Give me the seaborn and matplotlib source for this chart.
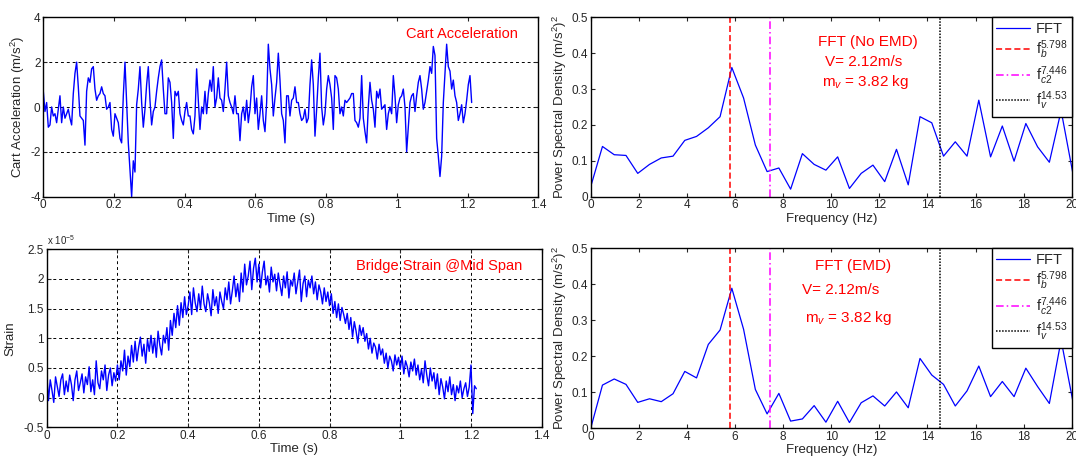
import numpy as np
import matplotlib
matplotlib.use("Agg")
import matplotlib.pyplot as plt
from matplotlib.ticker import FuncFormatter
from matplotlib.lines import Line2D
import seaborn as sns

# ---- data ----
# cart acceleration (m/s^2), sampled every acc_dt seconds
acc_dt = 0.004714
acc = [0.7, -0.2, 0.2, -0.9, -0.8, 0.0, -0.4, -0.3, -0.7, -0.1,
       0.5, -0.7, 0.0, -0.5, -0.3, -0.1, -0.5, -0.8, 0.6, 1.5,
       2.0, 0.9, -0.4, -0.5, -0.6, -1.7, 0.7, 1.3, 1.1, 1.7,
       1.8, 0.8, 0.3, 0.5, 0.6, 0.9, 0.6, 0.5, -0.1, 0.0,
       0.2, -1.0, -1.3, -0.3, -0.5, -0.7, -1.4, -1.6, 0.5, 2.0,
       0.2, -1.6, -2.8, -4.0, -2.4, -2.9, 0.1, 0.8, 1.8, 0.2,
       -0.9, -0.1, 1.0, 1.8, 0.3, -0.8, -0.2, 0.0, 0.7, 1.3,
       1.8, 2.1, 0.8, -0.3, -0.3, 1.3, 1.1, 0.2, -1.4, 0.7,
       0.5, 0.7, -0.3, -0.6, -0.8, -0.2, 0.2, -0.4,
       -0.4, -1.0, -1.2, -0.4, 1.7, 0.3, -1.0, 0.0, -0.3, 0.7,
       -0.3, 0.6, 1.2, 0.7, 1.8, 0.0, 0.4, 1.3, 0.4, 0.3,
       -0.2, 0.8, 2.0, 0.5, 0.2, 0.0, -0.3, 0.5, -0.3, -0.3,
       -1.5, -0.3, 0.0, -0.6, 0.3, -0.7, -0.1, 0.9, 1.4, -0.3,
       0.4, -1.0, -0.3, 0.5, -0.6, -1.1, 0.2, 2.8, 1.7, 1.0,
       -0.4, 0.4, 1.1, 2.4, 1.2, -0.3, -0.6, -1.6, 0.5, 0.5,
       -0.4, 0.3, 0.4, 0.9, 0.2, 0.2, -0.3, -0.6, -0.5, -0.1,
       -0.7, -0.5, 1.0, 2.1, 1.0, -1.3, -0.1, 1.3, 2.4, 0.0,
       -0.8, -0.3, 0.8, 1.4, 1.0, 0.4, -1.0, 1.4,
       1.3, 0.8, -0.3, 0.0, -0.4, 0.3, 0.2, 0.3, 0.4, 0.6,
       0.6, -0.6, -0.7, -0.9, -0.5, 1.4, -0.5, -1.1, -1.6, 0.0,
       1.1, 0.3, -0.1, -0.9, 0.7, 0.4, 0.8, -0.1, 0.0, 0.1,
       -1.0, -0.3, 0.0, -0.3, 1.4, 0.5, -0.7, 0.1, 0.4, 0.5,
       0.8, 0.0, -2.0, -0.9, 0.2, 0.5, 0.6, -0.2, 0.5, 1.1,
       1.4, 0.8, -0.1, 0.2, 0.7, 1.2, 1.8, 1.5, 2.7, 2.3,
       -1.4, -2.2, -3.1, -2.2, 0.2, 1.5, 2.8, 1.8, 1.6, 0.8,
       1.2, 0.5, 0.2, -0.6, -0.3, 0.1, -0.7, -0.3, 0.3, 1.0,
       1.4, 0.2]

# bridge strain at mid span (x 1e-5), sampled every strain_dt seconds
strain_dt = 0.005
strain = [0.42, -0.05, 0.30, 0.12, -0.08, 0.35, 0.18, 0.02, 0.30, 0.40,
          0.05, 0.28, 0.10, 0.38, 0.22, -0.05, 0.30, 0.45, 0.12, 0.25,
          0.40, 0.08, 0.35, 0.22, 0.52, 0.10, 0.30, 0.05, 0.62, 0.25,
          0.15, 0.45, 0.30, 0.55, 0.12, 0.38, 0.50, 0.20, 0.42, 0.28,
          0.55, 0.30, 0.62, 0.45, 0.80, 0.38, 0.70, 0.52, 0.88, 0.60,
          0.95, 0.62, 0.85, 1.02, 0.70, 0.90, 0.58, 0.98, 0.78, 1.05,
          0.75, 1.00, 0.68, 1.12, 0.88, 0.72, 1.05, 0.92, 1.18, 0.80,
          1.30, 1.05, 1.42, 1.18, 1.55, 1.22, 1.60, 1.35, 1.70, 1.40,
          1.55, 1.78, 1.40, 1.85, 1.60, 1.45, 1.75, 1.50, 1.88, 1.58,
          1.45, 1.75, 1.60, 1.38, 1.82, 1.55, 1.70, 1.42, 1.78, 1.62,
          1.50, 1.85, 1.65, 1.95, 1.58, 1.80, 2.05, 1.70, 1.92, 1.62,
          2.10, 1.78, 2.25, 1.90, 2.05, 2.30, 1.82, 2.18, 2.35, 1.95,
          2.25, 1.85, 2.12, 2.30, 1.90, 2.05, 1.78, 2.20, 1.95, 2.08,
          1.80, 2.10, 1.90, 1.72, 2.05, 1.85, 2.12, 1.68, 1.98, 1.88,
          2.10, 1.75, 1.95, 2.15, 1.62, 1.92, 2.05, 1.70, 1.98, 1.85,
          2.05, 1.75, 1.95, 1.65, 1.90, 1.78, 1.58, 1.85, 1.62, 1.78,
          1.55, 1.75, 1.42, 1.62, 1.35, 1.58, 1.30, 1.52, 1.40, 1.25,
          1.42, 1.15, 1.35, 1.02, 1.28, 1.12, 0.92, 1.22, 1.05, 1.18,
          0.95, 1.08, 0.82, 1.00, 0.75, 0.92, 0.85, 0.65, 0.90, 0.72,
          0.82, 0.58, 0.75, 0.50, 0.70, 0.62, 0.45, 0.72, 0.55, 0.68,
          0.48, 0.70, 0.40, 0.62, 0.52, 0.35, 0.60, 0.45, 0.65, 0.38,
          0.55, 0.30, 0.48, 0.25, 0.62, 0.38, 0.20, 0.50, 0.28, 0.42,
          0.15, 0.40, 0.05, 0.32, 0.18, -0.02, 0.28, 0.10, 0.35, 0.05,
          0.22, -0.05, 0.20, 0.08, 0.28, 0.00, 0.15, 0.25, 0.02, 0.18,
          0.55, -0.27, 0.20, 0.15]

# FFT frequency bins (Hz)
freq = [0.0, 0.489, 0.978, 1.467, 1.956, 2.445, 2.934, 3.423, 3.912, 4.401,
        4.89, 5.379, 5.868, 6.357, 6.846, 7.335, 7.824, 8.313, 8.802, 9.291,
        9.78, 10.269, 10.758, 11.247, 11.736, 12.225, 12.714, 13.203, 13.692, 14.181,
        14.67, 15.159, 15.648, 16.137, 16.626, 17.115, 17.604, 18.093, 18.582, 19.071,
        19.56, 20.049]
psd_no_emd = [0.028, 0.14, 0.117, 0.115, 0.065, 0.09, 0.108, 0.113, 0.157, 0.168,
              0.192, 0.223, 0.36, 0.275, 0.144, 0.07, 0.08, 0.021, 0.12, 0.09,
              0.074, 0.111, 0.023, 0.065, 0.088, 0.042, 0.132, 0.033, 0.223, 0.206,
              0.113, 0.153, 0.113, 0.269, 0.111, 0.197, 0.099, 0.204, 0.139, 0.096,
              0.24, 0.065]
psd_emd = [0.0, 0.12, 0.137, 0.122, 0.072, 0.082, 0.074, 0.096, 0.158, 0.14,
           0.233, 0.273, 0.389, 0.275, 0.108, 0.04, 0.097, 0.02, 0.026, 0.063,
           0.017, 0.075, 0.016, 0.071, 0.09, 0.062, 0.101, 0.057, 0.194, 0.148,
           0.122, 0.062, 0.104, 0.173, 0.088, 0.13, 0.088, 0.167, 0.116, 0.069,
           0.245, 0.075]

f_b, f_c2, f_v = 5.798, 7.446, 14.53

t_acc = np.arange(len(acc)) * acc_dt
t_strain = np.arange(len(strain)) * strain_dt

# ---- style ----
sns.set_style("ticks")
plt.rcParams['font.family'] = ['Liberation Sans', 'DejaVu Sans']
plt.rcParams['mathtext.fontset'] = 'custom'
plt.rcParams['mathtext.rm'] = 'Liberation Sans'
plt.rcParams['mathtext.it'] = 'Liberation Sans:italic'
plt.rcParams['axes.unicode_minus'] = False
plt.rcParams['xtick.direction'] = 'in'
plt.rcParams['ytick.direction'] = 'in'
plt.rcParams['xtick.top'] = True
plt.rcParams['ytick.right'] = True
plt.rcParams['axes.edgecolor'] = 'black'
plt.rcParams['axes.linewidth'] = 1.0

W, H = 1076, 462
fig = plt.figure(figsize=(W / 100, H / 100), dpi=100)


def px_axes(x0, y0, x1, y1):
    return fig.add_axes([x0 / W, 1 - y1 / H, (x1 - x0) / W, (y1 - y0) / H])


ax1 = px_axes(43.3, 17.3, 538.3, 196.7)
ax2 = px_axes(590.7, 17.3, 1071.7, 196.7)
ax3 = px_axes(46.7, 249.3, 541.7, 427.3)
ax4 = px_axes(590.7, 248.3, 1071.7, 428.3)

fmt = FuncFormatter(lambda v, p: '%g' % round(v, 6))
grid_kw = dict(color='black', linestyle=(0, (3, 3)), linewidth=0.7)
red = '#ff0000'
blue = '#0000ff'
lab_fs = 9.5

# cart acceleration
sns.lineplot(x=t_acc, y=acc, ax=ax1, color=blue, linewidth=1.0)
ax1.set_xlim(0, 1.4)
ax1.set_ylim(-4, 4)
ax1.set_xticks(np.arange(0, 1.41, 0.2))
ax1.set_yticks([-4, -2, 0, 2, 4])
ax1.yaxis.grid(True, **grid_kw)
ax1.set_xlabel('Time (s)', fontsize=lab_fs, labelpad=1)
ax1.set_ylabel('Cart Acceleration (m/s$^2$)', fontsize=lab_fs, labelpad=2)
ax1.text(0.959, 0.905, 'Cart Acceleration', color=red, fontsize=10.5,
         ha='right', va='center', transform=ax1.transAxes)

# bridge strain
sns.lineplot(x=t_strain, y=strain, ax=ax3, color=blue, linewidth=1.0)
ax3.set_xlim(0, 1.4)
ax3.set_ylim(-0.5, 2.5)
ax3.set_xticks(np.arange(0, 1.41, 0.2))
ax3.set_yticks(np.arange(-0.5, 2.51, 0.5))
ax3.grid(True, **grid_kw)
ax3.set_xlabel('Time (s)', fontsize=lab_fs, labelpad=1)
ax3.set_ylabel('Strain', fontsize=lab_fs, labelpad=5)
ax3.text(0.0, 1.015, r'x 10$^{-5}$', fontsize=7, ha='left', va='bottom',
         transform=ax3.transAxes)
ax3.text(0.96, 0.905, 'Bridge Strain @Mid Span', color=red, fontsize=10.5,
         ha='right', va='center', transform=ax3.transAxes)

# FFT panels
for ax, psd, lines, pos in [
        (ax2, psd_no_emd, ['FFT (No EMD)', 'V= 2.12m/s', 'm$_v$ = 3.82 kg'],
         [(0.577, 0.862), (0.568, 0.751), (0.572, 0.64)]),
        (ax4, psd_emd, ['FFT (EMD)', 'V= 2.12m/s', 'm$_v$ = 3.82 kg'],
         [(0.545, 0.90), (0.52, 0.768), (0.535, 0.615)])]:
    sns.lineplot(x=freq, y=psd, ax=ax, color=blue, linewidth=0.9)
    ax.axvline(f_b, color=red, linestyle=(0, (4, 2)), linewidth=1.1)
    ax.axvline(f_c2, color='#ff00ff', linestyle=(0, (5, 2, 1, 2)), linewidth=1.1)
    ax.axvline(f_v, color='black', linestyle=(0, (1, 1)), linewidth=1.1)
    ax.set_xlim(0, 20)
    ax.set_ylim(0, 0.5)
    ax.set_xticks(np.arange(0, 21, 2))
    ax.set_yticks(np.arange(0, 0.51, 0.1))
    ax.set_xlabel('Frequency (Hz)', fontsize=lab_fs, labelpad=1)
    ax.set_ylabel('Power Spectral Density (m/s$^2$)$^2$', fontsize=lab_fs, labelpad=2)
    for s, (x, y) in zip(lines, pos):
        ax.text(x, y, s, color=red, fontsize=11, ha='center', va='center',
                transform=ax.transAxes)
    handles = [Line2D([], [], color=blue, linewidth=0.9),
               Line2D([], [], color=red, linestyle=(0, (4, 2)), linewidth=1.1),
               Line2D([], [], color='#ff00ff', linestyle=(0, (5, 2, 1, 2)), linewidth=1.1),
               Line2D([], [], color='black', linestyle=(0, (1, 1)), linewidth=1.1)]
    labels = ['FFT', 'f$_{b}^{5.798}$', 'f$_{c2}^{7.446}$', 'f$_{v}^{14.53}$']
    leg = ax.legend(handles, labels, loc='upper right', borderaxespad=0,
                    fancybox=False, framealpha=1, edgecolor='black',
                    fontsize=10.5, handlelength=2.3, labelspacing=0.2,
                    handletextpad=0.4, borderpad=0.3)
    leg.get_frame().set_linewidth(1.0)

for ax in [ax1, ax2, ax3, ax4]:
    ax.xaxis.set_major_formatter(fmt)
    ax.yaxis.set_major_formatter(fmt)
    ax.tick_params(labelsize=8.5, length=3, width=0.8, pad=2)

fig.savefig('out.png', dpi=100)
